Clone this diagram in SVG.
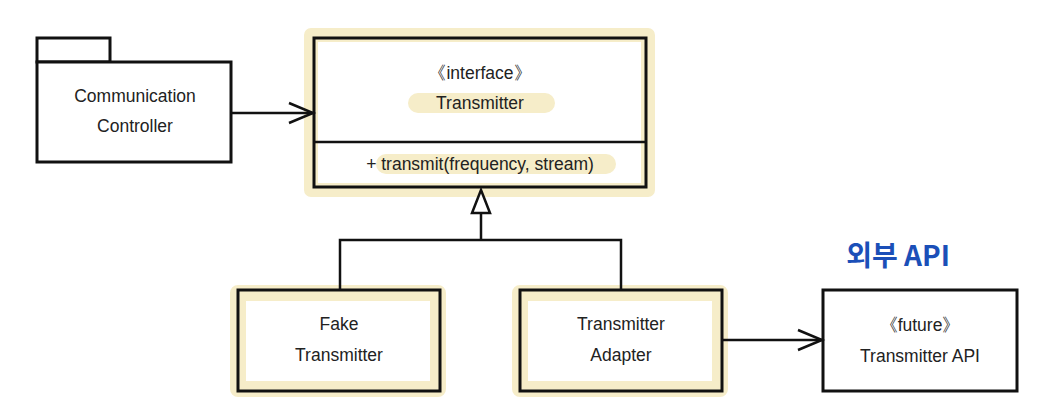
<svg xmlns="http://www.w3.org/2000/svg" width="1048" height="420" viewBox="0 0 1048 420">
<style>
.box{fill:#fff;stroke:#111;stroke-width:3}
.ln{fill:none;stroke:#111;stroke-width:2.5}
.hl{fill:none;stroke:#f6edc9;stroke-linecap:round;stroke-linejoin:round}
.t{font-family:"Liberation Sans",Arial,sans-serif;font-size:17.5px;fill:#222;text-anchor:middle}
.ko{font-family:"Noto Sans CJK KR",sans-serif;font-size:28px;font-weight:bold;fill:#1b4fb8;text-anchor:middle}
</style>
<defs>
<marker id="open" markerWidth="30" markerHeight="24" refX="26" refY="12" orient="auto" markerUnits="userSpaceOnUse">
<path d="M2,2 L26,12 L2,22" fill="none" stroke="#111" stroke-width="2.5"/>
</marker>
</defs>
<rect width="1048" height="420" fill="#fff"/>
<g id="highlights">
<rect x="311" y="35" width="337" height="155" class="hl" stroke-width="14"/>
<path d="M418,103 L545,103" class="hl" stroke-width="20"/>
<path d="M386,164 L606,164" class="hl" stroke-width="20"/>
<rect x="238" y="293" width="200" height="96" class="hl" stroke-width="16"/>
<rect x="520" y="293" width="200" height="96" class="hl" stroke-width="16"/>
</g>
<g id="controller">
<rect x="37" y="38" width="73" height="24" class="box"/>
<rect x="37" y="62" width="194" height="100" class="box"/>
<text x="135" y="102" class="t">Communication</text>
<text x="135" y="132" class="t">Controller</text>
</g>
<g id="transmitter">
<rect x="314" y="38" width="332" height="149" class="box" style="fill:none"/>
<line x1="314" y1="142" x2="646" y2="142" class="ln"/>
<text x="480" y="79" class="t">《interface》</text>
<text x="480" y="109" class="t">Transmitter</text>
<text x="480" y="170" class="t">+ transmit(frequency, stream)</text>
</g>
<g id="fake">
<rect x="238" y="290" width="202" height="101" class="box" style="fill:none"/>
<text x="339" y="330" class="t">Fake</text>
<text x="339" y="361" class="t">Transmitter</text>
</g>
<g id="adapter">
<rect x="520" y="290" width="202" height="101" class="box" style="fill:none"/>
<text x="621" y="330" class="t">Transmitter</text>
<text x="621" y="361" class="t">Adapter</text>
</g>
<g id="api">
<rect x="823" y="290" width="194" height="101" class="box"/>
<text x="920" y="331" class="t">《future》</text>
<text x="920" y="362" class="t">Transmitter API</text>
</g>
<g id="label">
<text x="898" y="266" class="ko">외부 API</text>
</g>
<g id="connectors">
<line x1="231" y1="113" x2="313" y2="113" class="ln" marker-end="url(#open)"/>
<line x1="722" y1="340" x2="822" y2="340" class="ln" marker-end="url(#open)"/>
<polyline points="340,290 340,240 621,240 621,290" class="ln"/>
<line x1="481" y1="240" x2="481" y2="213" class="ln"/>
<polygon points="481,190 472,213 490,213" fill="#fff" stroke="#111" stroke-width="2.5" stroke-linejoin="miter"/>
</g>
</svg>
